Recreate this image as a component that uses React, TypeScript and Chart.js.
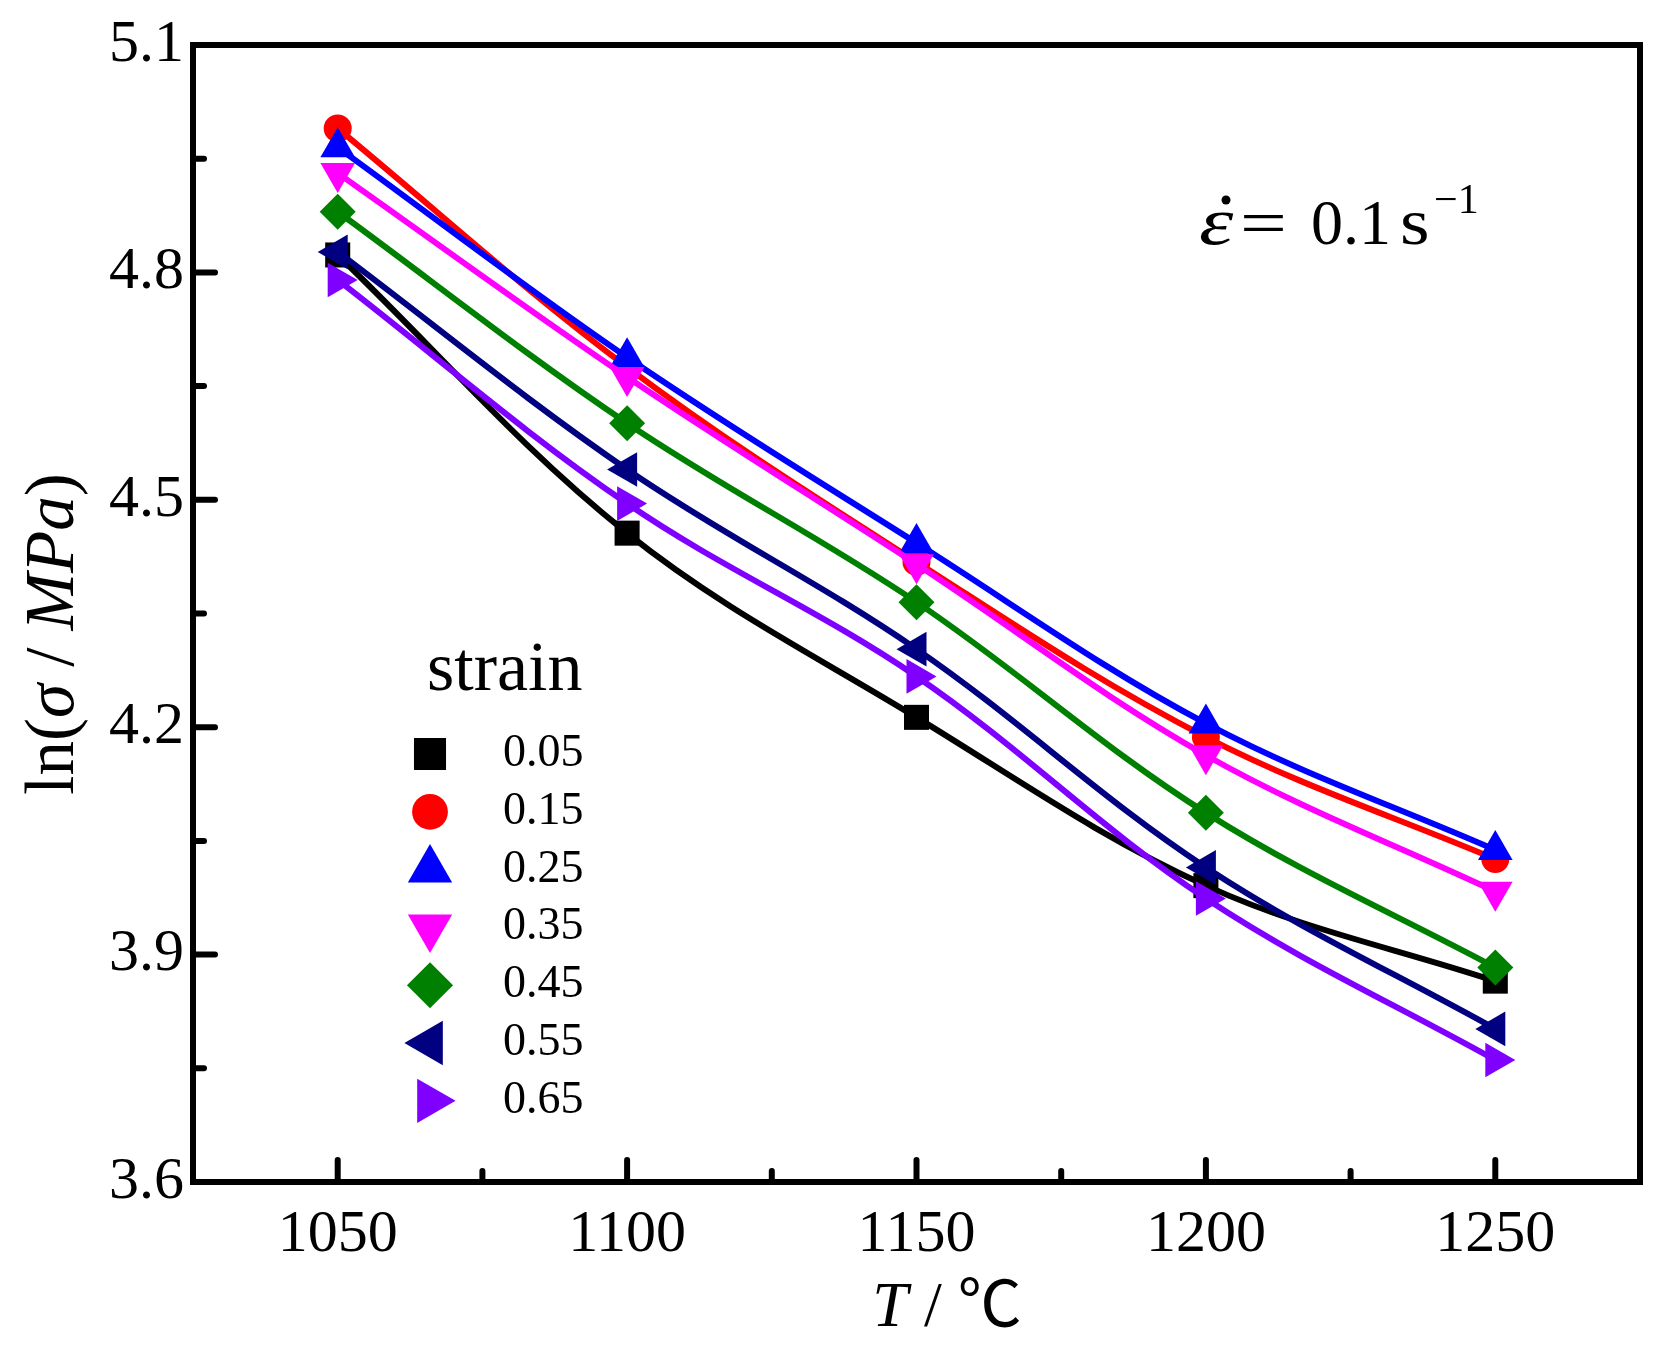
import React, { useEffect, useRef } from "react";
import { Chart, registerables } from "chart.js";

Chart.register(...registerables);

// ---------- data ----------
const TEMPS = [1050, 1100, 1150, 1200, 1250];
const SERIES_LABELS = ["0.05", "0.15", "0.25", "0.35", "0.45", "0.55", "0.65"];
const STRAIN_005 = [4.823, 4.456, 4.213, 3.991, 3.865];
const STRAIN_015 = [4.99, 4.675, 4.418, 4.187, 4.026];
const STRAIN_025 = [4.965, 4.688, 4.443, 4.205, 4.038];
const STRAIN_035 = [4.931, 4.662, 4.415, 4.163, 3.983];
const STRAIN_045 = [4.88, 4.601, 4.365, 4.087, 3.883];
const STRAIN_055 = [4.827, 4.54, 4.303, 4.015, 3.802];
const STRAIN_065 = [4.79, 4.495, 4.267, 3.974, 3.761];
const SERIES_VALUES = [STRAIN_005, STRAIN_015, STRAIN_025, STRAIN_035, STRAIN_045, STRAIN_055, STRAIN_065];

const X_TICKS = [1050, 1100, 1150, 1200, 1250];
const X_MINOR = [1025, 1075, 1125, 1175, 1225, 1275];
const Y_TICKS = [3.6, 3.9, 4.2, 4.5, 4.8, 5.1];
const Y_MINOR = [3.75, 4.05, 4.35, 4.65, 4.95];

// ---------- styles ----------
const COLORS = ["#000000", "#FF0000", "#0000FF", "#FF00FF", "#008000", "#000080", "#8000FF"];
const POINT_STYLES = ["rect", "circle", "triangle", "triangle", "rectRot", "triangle", "triangle"];
const ROTATIONS = [0, 0, 0, 180, 0, -90, 90];
const RADII = [17.7, 14, 20, 20, 18, 20, 20];

const SERIF = '"Liberation Serif", "Times New Roman", serif';
const W = 1663;
const H = 1345;

function drawMarker(
  ctx: CanvasRenderingContext2D,
  style: string,
  rotDeg: number,
  r: number,
  x: number,
  y: number,
  color: string
) {
  ctx.save();
  ctx.fillStyle = color;
  ctx.beginPath();
  const rad = (rotDeg * Math.PI) / 180;
  if (style === "circle") {
    ctx.arc(x, y, r, 0, Math.PI * 2);
  } else if (style === "rect") {
    const s = Math.SQRT1_2 * r;
    ctx.rect(x - s, y - s, 2 * s, 2 * s);
  } else if (style === "rectRot") {
    ctx.moveTo(x - r, y);
    ctx.lineTo(x, y - r);
    ctx.lineTo(x + r, y);
    ctx.lineTo(x, y + r);
    ctx.closePath();
  } else {
    let a = rad;
    ctx.moveTo(x + Math.sin(a) * r, y - Math.cos(a) * r);
    a += (2 * Math.PI) / 3;
    ctx.lineTo(x + Math.sin(a) * r, y - Math.cos(a) * r);
    a += (2 * Math.PI) / 3;
    ctx.lineTo(x + Math.sin(a) * r, y - Math.cos(a) * r);
    ctx.closePath();
  }
  ctx.fill();
  ctx.restore();
}

function drawSegments(
  ctx: CanvasRenderingContext2D,
  segs: { t: string; italic: boolean; family?: string }[],
  size: number,
  cx: number,
  baseline: number
) {
  const fonts = segs.map(
    (s) => `${s.italic ? "italic " : ""}${size}px ${s.family || SERIF + ', "Noto Sans CJK SC"'}`
  );
  let total = 0;
  const widths = segs.map((s, i) => {
    ctx.font = fonts[i];
    const w = ctx.measureText(s.t).width;
    total += w;
    return w;
  });
  let x = cx - total / 2;
  segs.forEach((s, i) => {
    ctx.font = fonts[i];
    ctx.fillText(s.t, x, baseline);
    x += widths[i];
  });
}

function stretchedText(
  ctx: CanvasRenderingContext2D,
  text: string,
  font: string,
  x: number,
  y: number,
  sx: number
) {
  ctx.save();
  ctx.font = font;
  ctx.translate(x, y);
  ctx.scale(sx, 1);
  ctx.fillText(text, 0, 0);
  ctx.restore();
}

const decorPlugin = {
  id: "decor",
  afterDraw(chart: any) {
    const ctx: CanvasRenderingContext2D = chart.ctx;
    const { left, right, top, bottom } = chart.chartArea;
    const xs = chart.scales.x;
    const ys = chart.scales.y;
    ctx.save();
    ctx.strokeStyle = "#000";
    ctx.fillStyle = "#000";

    // ticks (inward)
    ctx.lineWidth = 6;
    ctx.lineCap = "round";
    const tick = (x1: number, y1: number, x2: number, y2: number) => {
      ctx.beginPath();
      ctx.moveTo(x1, y1);
      ctx.lineTo(x2, y2);
      ctx.stroke();
    };
    X_TICKS.forEach((v) => {
      const px = xs.getPixelForValue(v);
      tick(px, bottom, px, bottom - 22);
    });
    X_MINOR.forEach((v) => {
      const px = xs.getPixelForValue(v);
      if (px > left + 4 && px < right - 4) tick(px, bottom, px, bottom - 11);
    });
    Y_TICKS.forEach((v) => {
      const py = ys.getPixelForValue(v);
      if (py > top + 4 && py < bottom - 4) tick(left, py, left + 22, py);
    });
    Y_MINOR.forEach((v) => {
      const py = ys.getPixelForValue(v);
      tick(left, py, left + 11, py);
    });

    // frame
    ctx.lineCap = "butt";
    ctx.lineJoin = "miter";
    ctx.lineWidth = 6;
    ctx.strokeRect(left, top, right - left, bottom - top);

    // y title
    ctx.save();
    ctx.translate(73, 634);
    ctx.rotate(-Math.PI / 2);
    ctx.textBaseline = "alphabetic";
    ctx.textAlign = "left";
    drawSegments(
      ctx,
      [
        { t: "ln(", italic: false },
        { t: "σ", italic: true },
        { t: " / ", italic: false },
        { t: "MPa", italic: true },
        { t: ")", italic: false },
      ],
      69,
      0,
      0
    );
    ctx.restore();

    // x title
    ctx.textBaseline = "alphabetic";
    ctx.textAlign = "left";
    drawSegments(
      ctx,
      [
        { t: "T", italic: true },
        { t: " / ", italic: false },
        { t: "℃", italic: false, family: '"Noto Sans CJK SC", ' + SERIF },
      ],
      64,
      947,
      1326
    );

    // strain-rate annotation
    stretchedText(ctx, "ε", `italic 68px ${SERIF}`, 1199, 244, 1.28);
    ctx.beginPath();
    ctx.arc(1226, 200, 4.5, 0, Math.PI * 2);
    ctx.fill();
    stretchedText(ctx, "=", `64px ${SERIF}`, 1240, 244, 1.3);
    ctx.font = `64px ${SERIF}`;
    ctx.fillText("0.1", 1311, 244);
    stretchedText(ctx, "s", `66px ${SERIF}`, 1400, 244, 1.15);
    ctx.font = `42px ${SERIF}`;
    ctx.fillText("−1", 1434, 213);

    // legend
    ctx.font = `70px ${SERIF}`;
    ctx.fillText("strain", 427, 690);
    ctx.font = `46px ${SERIF}`;
    ctx.textBaseline = "middle";
    SERIES_LABELS.forEach((lab, i) => {
      const yy = 754 + i * 57.8;
      drawMarker(ctx, POINT_STYLES[i], ROTATIONS[i], RADII[i] * 1.28, 430, yy, COLORS[i]);
      ctx.fillStyle = "#000";
      ctx.fillText(lab, 503, yy);
    });

    ctx.restore();
  },
};

export default function App() {
  const ref = useRef<HTMLCanvasElement | null>(null);

  useEffect(() => {
    const canvas = ref.current;
    if (!canvas) return;
    const datasets = SERIES_VALUES.map((vals, i) => ({
      label: SERIES_LABELS[i],
      data: TEMPS.map((t, j) => ({ x: t, y: vals[j] })),
      borderColor: COLORS[i],
      backgroundColor: COLORS[i],
      borderWidth: 6,
      pointStyle: POINT_STYLES[i] as any,
      pointRotation: ROTATIONS[i],
      pointRadius: RADII[i],
      pointBorderWidth: 0,
      pointBackgroundColor: COLORS[i],
      pointBorderColor: COLORS[i],
      tension: 0.35,
      order: SERIES_VALUES.length - 1 - i,
      clip: false as any,
    }));

    const chart = new Chart(canvas, {
      type: "line",
      data: { datasets },
      options: {
        animation: false,
        responsive: false,
        devicePixelRatio: 1,
        layout: { padding: { left: 0, top: 39, right: 23, bottom: 0 } },
        plugins: {
          legend: { display: false },
          tooltip: { enabled: false },
          title: { display: false },
        },
        events: [],
        scales: {
          x: {
            type: "linear",
            min: 1025,
            max: 1275,
            grid: { display: false, drawTicks: false },
            border: { display: false },
            afterBuildTicks: (s: any) => {
              s.ticks = X_TICKS.map((v) => ({ value: v }));
            },
            afterFit: (s: any) => {
              s.height = 163;
            },
            ticks: {
              padding: 17,
              color: "#000",
              font: { family: SERIF, size: 60 },
              maxRotation: 0,
              autoSkip: false,
              callback: (v: any) => String(v),
            },
          },
          y: {
            type: "linear",
            min: 3.6,
            max: 5.1,
            grid: { display: false, drawTicks: false },
            border: { display: false },
            afterBuildTicks: (s: any) => {
              s.ticks = Y_TICKS.map((v) => ({ value: v }));
            },
            afterFit: (s: any) => {
              s.width = 193;
            },
            ticks: {
              padding: 9,
              color: "#000",
              font: { family: SERIF, size: 60 },
              autoSkip: false,
              callback: (v: any) => Number(v).toFixed(1),
            },
          },
        },
      },
      plugins: [decorPlugin],
    });
    return () => chart.destroy();
  }, []);

  return (
    <div style={{ position: "fixed", left: 0, top: 0, width: W, height: H, background: "#fff" }}>
      <canvas ref={ref} width={W} height={H} style={{ width: W, height: H, display: "block" }} />
    </div>
  );
}
